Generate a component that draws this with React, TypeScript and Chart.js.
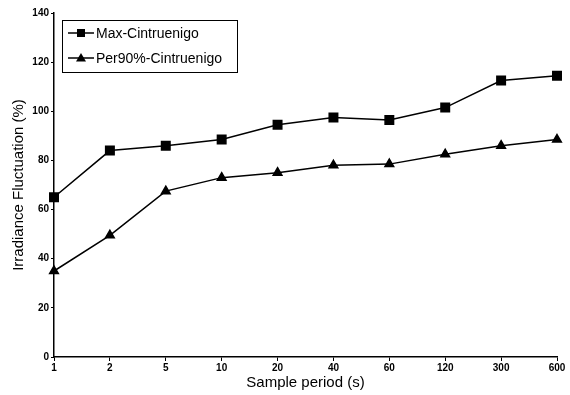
import React, { useEffect, useRef } from "react";
import { Chart, registerables } from "chart.js";

Chart.register(...registerables);

const categories = ["1", "2", "5", "10", "20", "40", "60", "120", "300", "600"];
const maxSeries = [65, 84, 86, 88.5, 94.5, 97.5, 96.5, 101.5, 112.5, 114.5];
const per90Series = [35, 49.5, 67.5, 73, 75, 78, 78.5, 82.5, 86, 88.5];
const seriesNames = ["Max-Cintruenigo", "Per90%-Cintruenigo"];
const yTicks = [0, 20, 40, 60, 80, 100, 120, 140];

const FONT = "'Liberation Sans', Arial, sans-serif";

const legendPlugin = {
  id: "boxLegend",
  afterDraw(chart: any) {
    const { ctx, chartArea } = chart;
    const x0 = chartArea.left + 8;
    const y0 = chartArea.top + 7;
    const w = 175;
    const h = 52;
    ctx.save();
    ctx.fillStyle = "#fff";
    ctx.fillRect(x0, y0, w, h);
    ctx.strokeStyle = "#000";
    ctx.lineWidth = 1;
    ctx.strokeRect(x0 + 0.5, y0 + 0.5, w, h);
    ctx.font = `14px ${FONT}`;
    ctx.textBaseline = "middle";
    ctx.fillStyle = "#000";
    const rows = [y0 + 13, y0 + 38];
    rows.forEach((ry, i) => {
      ctx.beginPath();
      ctx.moveTo(x0 + 6, ry);
      ctx.lineTo(x0 + 32, ry);
      ctx.lineWidth = 1.5;
      ctx.stroke();
      const cx = x0 + 19;
      if (i === 0) {
        ctx.fillRect(cx - 4, ry - 4, 8, 8);
      } else {
        ctx.beginPath();
        ctx.moveTo(cx, ry - 5);
        ctx.lineTo(cx + 5, ry + 3.5);
        ctx.lineTo(cx - 5, ry + 3.5);
        ctx.closePath();
        ctx.fill();
      }
      ctx.fillText(seriesNames[i], x0 + 34, ry + 1);
    });
    ctx.restore();
  },
};

export default function App() {
  const ref = useRef<HTMLCanvasElement>(null);
  useEffect(() => {
    if (!ref.current) return;
    const chart = new Chart(ref.current, {
      type: "line",
      data: {
        labels: categories,
        datasets: [
          {
            label: seriesNames[0],
            data: maxSeries,
            borderColor: "#000",
            backgroundColor: "#000",
            borderWidth: 1.5,
            pointStyle: "rect",
            pointRadius: 6,
            tension: 0,
          },
          {
            label: seriesNames[1],
            data: per90Series,
            borderColor: "#000",
            backgroundColor: "#000",
            borderWidth: 1.5,
            pointStyle: "triangle",
            pointRadius: 5,
            tension: 0,
          },
        ],
      },
      options: {
        responsive: false,
        animation: false,
        layout: { padding: { top: 13, right: 13, left: 10, bottom: 0 } },
        plugins: {
          legend: { display: false },
          tooltip: { enabled: false },
        },
        scales: {
          x: {
            type: "category",
            offset: false,
            grid: { display: true, drawOnChartArea: false, drawTicks: true, tickLength: 4, color: "#000" },
            border: { display: true, color: "#000", width: 1.5 },
            ticks: { color: "#000", font: { family: FONT, size: 10, weight: "bold" }, padding: 1, maxRotation: 0, autoSkip: false },
            title: { display: true, text: "Sample period (s)", color: "#000", font: { family: FONT, size: 15 }, padding: { top: 0, bottom: 3 } },
            afterFit(scale: any) {
              scale.height = 38;
            },
          },
          y: {
            min: 0,
            max: 140,
            afterBuildTicks(scale: any) {
              scale.ticks = yTicks.map((v) => ({ value: v }));
            },
            grid: { display: true, drawOnChartArea: false, drawTicks: true, tickLength: 3, color: "#000" },
            border: { display: true, color: "#000", width: 1.5 },
            ticks: { color: "#000", font: { family: FONT, size: 10, weight: "bold" }, padding: 2 },
            title: { display: true, text: "Irradiance Fluctuation (%)", color: "#000", font: { family: FONT, size: 15 }, padding: { top: 0, bottom: 4 } },
            afterFit(scale: any) {
              scale.width = 44;
            },
          },
        },
      },
      plugins: [legendPlugin],
    });
    return () => chart.destroy();
  }, []);
  return (
    <div style={{ position: "fixed", left: 0, top: 0, width: 570, height: 395, background: "#fff" }}>
      <canvas ref={ref} width={570} height={395} style={{ display: "block" }} />
    </div>
  );
}
